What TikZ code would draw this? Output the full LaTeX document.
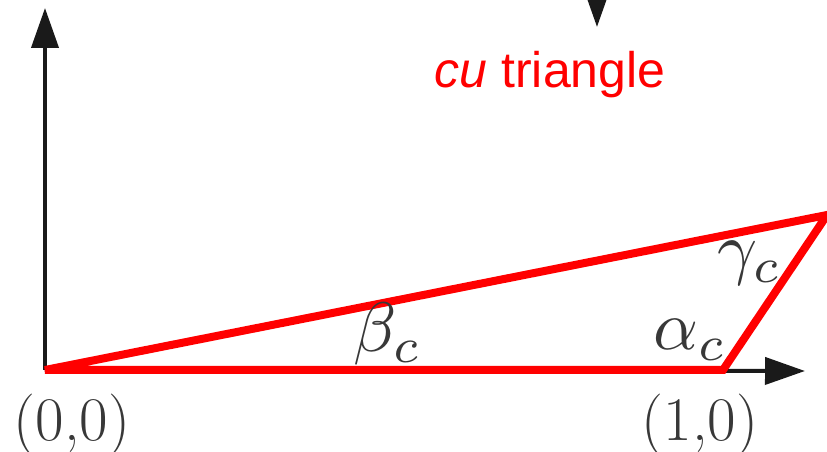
\documentclass[tikz,border=0pt]{standalone}
\usepackage{fontspec}
\usepackage{tikz}
\usetikzlibrary{arrows.meta}
\newfontfamily\labelfont{Liberation Sans}
\definecolor{axisgray}{HTML}{1A1A1A}
\definecolor{textgray}{HTML}{383838}

\begin{document}
\begin{tikzpicture}[x=1pt, y=1pt,
  axis/.style={draw=axisgray, line width=4pt, -{Triangle[length=40pt, width=27pt]}},
  edge/.style={draw=red, line width=8pt, line join=miter},
  angle/.style={text=textgray, anchor=base, inner sep=0pt, scale=7},
  point/.style={text=textgray, anchor=base, inner sep=0pt, font=\fontsize{62}{70}\selectfont}]
\clip (0,0) rectangle (827,452);
\useasboundingbox (0,0) rectangle (827,452);
% corners and axis ends
\coordinate (o) at (45,82);
\coordinate (b) at (723,82);
\coordinate (c) at (827,237);
\coordinate (xtip) at (805,81);
\coordinate (ytip) at (45,444);
\coordinate (topstart) at (597,500);
\coordinate (toptip) at (597,425);
% axes
\draw[axis] (o) -- (xtip);
\draw[axis] (o) -- (ytip);
\draw[axis] (topstart) -- (toptip);
% triangle
\draw[edge] (o) -- (b) -- (c) -- cycle;
% labels
\node (title) [anchor=base, text=red, font=\labelfont\fontsize{50}{60}\selectfont] at (550,364) {\textit{cu} triangle};
\node (beta) [angle] at (388,100) {$\beta_c$};
\node (alpha) [angle] at (690,102) {$\alpha_c$};
\node (gamma) [angle] at (750,180) {$\gamma_c$};
\node (origin) [point] at (72,11) {(0,0)};
\node (unit) [point] at (700,11) {(1,0)};
\end{tikzpicture}
\end{document}
